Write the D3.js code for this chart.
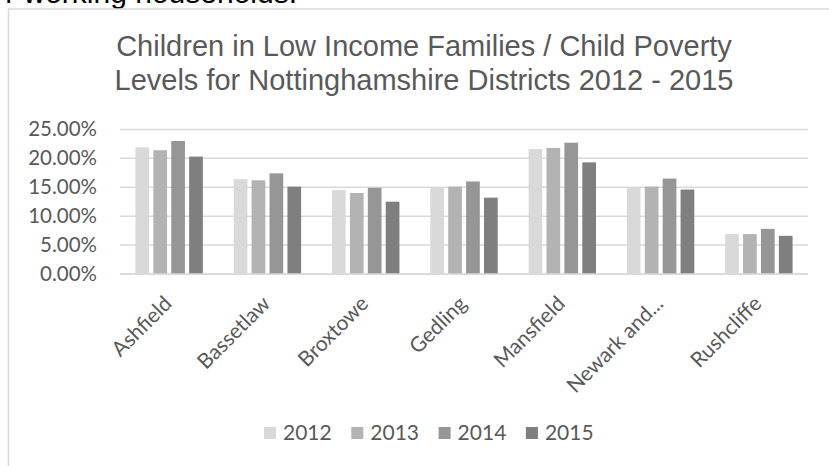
<!DOCTYPE html>
<html>
<head>
<meta charset="utf-8">
<script src="https://cdn.jsdelivr.net/npm/d3@7"></script>
<style>
  html, body { margin: 0; padding: 0; background: #fff; }
  svg { display: block; }
</style>
</head>
<body>
<svg id="chart" width="829" height="466"></svg>
<script>
const categories = ["Ashfield", "Bassetlaw", "Broxtowe", "Gedling", "Mansfield", "Newark and...", "Rushcliffe"];
const years = ["2012", "2013", "2014", "2015"];
const values2012 = [0.219, 0.164, 0.145, 0.150, 0.216, 0.150, 0.069];
const values2013 = [0.214, 0.162, 0.140, 0.151, 0.218, 0.151, 0.069];
const values2014 = [0.230, 0.174, 0.149, 0.160, 0.227, 0.165, 0.078];
const values2015 = [0.203, 0.151, 0.125, 0.132, 0.193, 0.146, 0.066];
const yTicks = [0, 0.05, 0.10, 0.15, 0.20, 0.25];
const titleLines = ["Children in Low Income Families / Child Poverty", "Levels for Nottinghamshire Districts 2012 - 2015"];
const colors = ["#d9d9d9", "#b3b3b3", "#969696", "#7f7f7f"];

const seriesValues = [values2012, values2013, values2014, values2015];
const svg = d3.select("#chart");

// cut-off text from page above
svg.append("text").attr("x", 297).attr("y", 3).attr("text-anchor", "end")
  .attr("font-family", "Liberation Sans, Arial, sans-serif").attr("font-size", 30).attr("fill", "#000")
  .text("r working households.");

// chart area border
svg.append("rect").attr("x", 8.5).attr("y", 9).attr("width", 840).attr("height", 480)
  .attr("fill", "#fff").attr("stroke", "#d9d9d9").attr("stroke-width", 1.5);

// title
const title = svg.append("text").attr("text-anchor", "middle")
  .attr("font-family", "Liberation Sans, Arial, sans-serif").attr("font-size", 29).attr("fill", "#595959");
titleLines.forEach((t, i) => title.append("tspan").attr("x", 424).attr("y", 56 + i * 34).text(t));

const plotLeft = 120, plotRight = 808, plotTop = 129.4, plotBottom = 274;
const x0 = d3.scaleBand().domain(categories).range([plotLeft, plotRight]).paddingInner(0.314).paddingOuter(0.157);
const x1 = d3.scaleBand().domain(years).range([0, x0.bandwidth()]).paddingInner(0.235);
const y = d3.scaleLinear().domain([0, 0.25]).range([plotBottom, plotTop]);

// gridlines
svg.append("g").selectAll("line").data(yTicks).join("line")
  .attr("x1", plotLeft).attr("x2", plotRight)
  .attr("y1", d => y(d)).attr("y2", d => y(d))
  .attr("stroke", "#d9d9d9").attr("stroke-width", 1.5);

// y axis labels
const yAxis = d3.axisLeft(y).tickValues(yTicks).tickFormat(d3.format(".2%")).tickSize(0).tickPadding(0);
const yg = svg.append("g").attr("transform", `translate(97,0)`).call(yAxis);
yg.select(".domain").remove();
yg.selectAll("text").attr("font-family", "Lato, sans-serif").attr("font-size", 20.5).attr("fill", "#595959");

// bars
const groups = svg.append("g").selectAll("g").data(categories).join("g")
  .attr("transform", d => `translate(${x0(d)},0)`);
groups.selectAll("rect").data((d, i) => years.map((yr, j) => ({ yr, v: seriesValues[j][i], j })))
  .join("rect")
  .attr("x", d => x1(d.yr)).attr("width", x1.bandwidth())
  .attr("y", d => y(d.v)).attr("height", d => y(0) - y(d.v))
  .attr("fill", d => colors[d.j]);

// baseline axis
svg.append("line").attr("x1", plotLeft).attr("x2", plotRight).attr("y1", plotBottom).attr("y2", plotBottom)
  .attr("stroke", "#d9d9d9").attr("stroke-width", 1.5);

// category labels
const xAxis = d3.axisBottom(x0).tickSize(0).tickPadding(0);
const xg = svg.append("g").attr("transform", `translate(0,${plotBottom})`).call(xAxis);
xg.select(".domain").remove();
xg.selectAll("text")
  .attr("font-family", "Lato, sans-serif").attr("font-size", 21).attr("fill", "#595959")
  .attr("text-anchor", "end").attr("dy", null).attr("y", 0)
  .attr("transform", "translate(4,31) rotate(-45)");

// legend
const legend = svg.append("g").selectAll("g").data(years).join("g")
  .attr("transform", (d, i) => `translate(${264 + i * 87.3},427)`);
legend.append("rect").attr("width", 12).attr("height", 12).attr("fill", (d, i) => colors[i]);
legend.append("text").attr("x", 19).attr("y", 13)
  .attr("font-family", "Lato, sans-serif").attr("font-size", 21).attr("fill", "#595959").text(d => d);
</script>
</body>
</html>
